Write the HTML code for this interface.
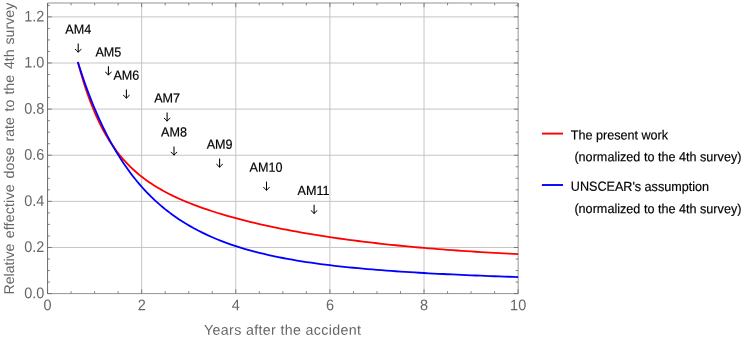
<!DOCTYPE html>
<html><head><meta charset="utf-8"><title>plot</title>
<style>html,body{margin:0;padding:0;background:#fff}svg{display:block;will-change:transform}text{font-family:"Liberation Sans",sans-serif;text-rendering:geometricPrecision}</style></head>
<body>
<svg width="747" height="341" viewBox="0 0 747 341">
<rect width="747" height="341" fill="#fff"/>
<path d="M47.55,3.0 V293.6 M141.67,3.0 V293.6 M235.79,3.0 V293.6 M329.91,3.0 V293.6 M424.03,3.0 V293.6 M47.55,247.48 H518.15 M47.55,201.36 H518.15 M47.55,155.24 H518.15 M47.55,109.12 H518.15 M47.55,63.00 H518.15 M47.55,16.88 H518.15" stroke="#c5c5c5" stroke-width="1" fill="none"/>
<path d="M47.55,3.0 H518.15 V293.6" stroke="#666666" stroke-width="0.7" fill="none"/>
<path d="M47.55,293.6 v-4.2 M47.55,3.0 v4.2 M71.08,293.6 v-2.4 M71.08,3.0 v2.4 M94.61,293.6 v-2.4 M94.61,3.0 v2.4 M118.14,293.6 v-2.4 M118.14,3.0 v2.4 M141.67,293.6 v-4.2 M141.67,3.0 v4.2 M165.20,293.6 v-2.4 M165.20,3.0 v2.4 M188.73,293.6 v-2.4 M188.73,3.0 v2.4 M212.26,293.6 v-2.4 M212.26,3.0 v2.4 M235.79,293.6 v-4.2 M235.79,3.0 v4.2 M259.32,293.6 v-2.4 M259.32,3.0 v2.4 M282.85,293.6 v-2.4 M282.85,3.0 v2.4 M306.38,293.6 v-2.4 M306.38,3.0 v2.4 M329.91,293.6 v-4.2 M329.91,3.0 v4.2 M353.44,293.6 v-2.4 M353.44,3.0 v2.4 M376.97,293.6 v-2.4 M376.97,3.0 v2.4 M400.50,293.6 v-2.4 M400.50,3.0 v2.4 M424.03,293.6 v-4.2 M424.03,3.0 v4.2 M447.56,293.6 v-2.4 M447.56,3.0 v2.4 M471.09,293.6 v-2.4 M471.09,3.0 v2.4 M494.62,293.6 v-2.4 M494.62,3.0 v2.4 M518.15,293.6 v-4.2 M518.15,3.0 v4.2 M47.55,293.60 h4.2 M518.15,293.60 h-4.2 M47.55,282.07 h2.4 M518.15,282.07 h-2.4 M47.55,270.54 h2.4 M518.15,270.54 h-2.4 M47.55,259.01 h2.4 M518.15,259.01 h-2.4 M47.55,247.48 h4.2 M518.15,247.48 h-4.2 M47.55,235.95 h2.4 M518.15,235.95 h-2.4 M47.55,224.42 h2.4 M518.15,224.42 h-2.4 M47.55,212.89 h2.4 M518.15,212.89 h-2.4 M47.55,201.36 h4.2 M518.15,201.36 h-4.2 M47.55,189.83 h2.4 M518.15,189.83 h-2.4 M47.55,178.30 h2.4 M518.15,178.30 h-2.4 M47.55,166.77 h2.4 M518.15,166.77 h-2.4 M47.55,155.24 h4.2 M518.15,155.24 h-4.2 M47.55,143.71 h2.4 M518.15,143.71 h-2.4 M47.55,132.18 h2.4 M518.15,132.18 h-2.4 M47.55,120.65 h2.4 M518.15,120.65 h-2.4 M47.55,109.12 h4.2 M518.15,109.12 h-4.2 M47.55,97.59 h2.4 M518.15,97.59 h-2.4 M47.55,86.06 h2.4 M518.15,86.06 h-2.4 M47.55,74.53 h2.4 M518.15,74.53 h-2.4 M47.55,63.00 h4.2 M518.15,63.00 h-4.2 M47.55,51.47 h2.4 M518.15,51.47 h-2.4 M47.55,39.94 h2.4 M518.15,39.94 h-2.4 M47.55,28.41 h2.4 M518.15,28.41 h-2.4 M47.55,16.88 h4.2 M518.15,16.88 h-4.2 M47.55,5.35 h2.4 M518.15,5.35 h-2.4" stroke="#666666" stroke-width="0.8" fill="none"/>
<path d="M47.55,293.6 H518.15" stroke="#666666" stroke-width="0.7" fill="none"/>
<path d="M47.55,3.0 V293.6" stroke="#666666" stroke-width="0.9" fill="none"/>
<path d="M77.86,61.93 L79.27,67.18 L80.68,72.21 L82.09,77.04 L83.50,81.67 L84.92,86.11 L86.33,90.37 L87.74,94.46 L89.15,98.39 L90.56,102.16 L91.97,105.79 L93.39,109.27 L94.80,112.62 L96.21,115.84 L97.62,118.94 L99.03,121.92 L100.45,124.79 L101.86,127.55 L103.27,130.22 L104.68,132.78 L106.09,135.26 L107.50,137.64 L108.92,139.94 L110.33,142.16 L111.74,144.31 L113.15,146.38 L114.56,148.38 L115.98,150.31 L117.39,152.18 L118.80,153.99 L120.21,155.74 L121.62,157.43 L123.03,159.07 L124.45,160.66 L125.86,162.20 L127.27,163.70 L128.68,165.15 L130.09,166.55 L131.51,167.92 L132.92,169.25 L134.33,170.53 L135.74,171.79 L137.15,173.01 L138.56,174.19 L139.98,175.35 L141.39,176.47 L142.80,177.57 L144.21,178.64 L145.62,179.68 L147.03,180.69 L148.45,181.69 L149.86,182.65 L151.27,183.60 L152.68,184.52 L154.09,185.42 L155.51,186.31 L156.92,187.17 L158.33,188.01 L159.74,188.84 L161.15,189.65 L162.56,190.44 L163.98,191.22 L165.39,191.98 L166.80,192.73 L168.21,193.46 L169.62,194.18 L171.04,194.89 L172.45,195.58 L173.86,196.26 L175.27,196.93 L176.68,197.59 L178.09,198.23 L179.51,198.87 L180.92,199.49 L182.33,200.11 L183.74,200.71 L185.15,201.31 L186.57,201.89 L187.98,202.47 L188.73,202.78 L193.44,204.63 L198.14,206.39 L202.85,208.08 L207.55,209.70 L212.26,211.25 L216.97,212.74 L221.67,214.18 L226.38,215.56 L231.08,216.89 L235.79,218.18 L240.50,219.43 L245.20,220.64 L249.91,221.80 L254.61,222.94 L259.32,224.03 L264.03,225.10 L268.73,226.13 L273.44,227.13 L278.14,228.10 L282.85,229.05 L287.56,229.96 L292.26,230.85 L296.97,231.72 L301.67,232.56 L306.38,233.38 L311.09,234.17 L315.79,234.95 L320.50,235.70 L325.20,236.43 L329.91,237.14 L334.62,237.83 L339.32,238.50 L344.03,239.16 L348.73,239.79 L353.44,240.41 L358.15,241.01 L362.85,241.60 L367.56,242.17 L372.26,242.72 L376.97,243.26 L381.68,243.79 L386.38,244.30 L391.09,244.79 L395.79,245.27 L400.50,245.74 L405.21,246.20 L409.91,246.65 L414.62,247.08 L419.32,247.50 L424.03,247.91 L428.74,248.31 L433.44,248.70 L438.15,249.07 L442.85,249.44 L447.56,249.80 L452.27,250.14 L456.97,250.48 L461.68,250.81 L466.38,251.13 L471.09,251.44 L475.80,251.75 L480.50,252.04 L485.21,252.33 L489.91,252.61 L494.62,252.88 L499.33,253.14 L504.03,253.40 L508.74,253.65 L513.44,253.89 L518.15,254.13" stroke="#ff0000" stroke-width="1.8" fill="none" stroke-linejoin="round"/>
<path d="M77.86,62.10 L79.27,66.55 L80.68,70.89 L82.09,75.13 L83.50,79.26 L84.92,83.29 L86.33,87.21 L87.74,91.05 L89.15,94.79 L90.56,98.44 L91.97,102.00 L93.39,105.48 L94.80,108.88 L96.21,112.19 L97.62,115.43 L99.03,118.59 L100.45,121.67 L101.86,124.69 L103.27,127.63 L104.68,130.51 L106.09,133.31 L107.50,136.06 L108.92,138.74 L110.33,141.36 L111.74,143.92 L113.15,146.43 L114.56,148.87 L115.98,151.26 L117.39,153.60 L118.80,155.89 L120.21,158.13 L121.62,160.31 L123.03,162.45 L124.45,164.54 L125.86,166.59 L127.27,168.59 L128.68,170.55 L130.09,172.47 L131.51,174.34 L132.92,176.18 L134.33,177.98 L135.74,179.73 L137.15,181.46 L138.56,183.14 L139.98,184.79 L141.39,186.41 L142.80,187.99 L144.21,189.54 L145.62,191.06 L147.03,192.54 L148.45,194.00 L149.86,195.42 L151.27,196.82 L152.68,198.19 L154.09,199.53 L155.51,200.85 L156.92,202.13 L158.33,203.40 L159.74,204.63 L161.15,205.85 L162.56,207.04 L163.98,208.20 L165.39,209.35 L166.80,210.47 L168.21,211.57 L169.62,212.65 L171.04,213.70 L172.45,214.74 L173.86,215.76 L175.27,216.75 L176.68,217.73 L178.09,218.69 L179.51,219.64 L180.92,220.56 L182.33,221.47 L183.74,222.36 L185.15,223.23 L186.57,224.09 L187.98,224.93 L188.73,225.37 L193.44,228.04 L198.14,230.56 L202.85,232.92 L207.55,235.15 L212.26,237.25 L216.97,239.23 L221.67,241.10 L226.38,242.87 L231.08,244.54 L235.79,246.11 L240.50,247.61 L245.20,249.02 L249.91,250.36 L254.61,251.63 L259.32,252.83 L264.03,253.98 L268.73,255.06 L273.44,256.09 L278.14,257.07 L282.85,258.00 L287.56,258.89 L292.26,259.73 L296.97,260.54 L301.67,261.30 L306.38,262.03 L311.09,262.73 L315.79,263.39 L320.50,264.03 L325.20,264.64 L329.91,265.22 L334.62,265.77 L339.32,266.31 L344.03,266.82 L348.73,267.30 L353.44,267.77 L358.15,268.22 L362.85,268.65 L367.56,269.07 L372.26,269.47 L376.97,269.85 L381.68,270.22 L386.38,270.58 L391.09,270.92 L395.79,271.25 L400.50,271.57 L405.21,271.88 L409.91,272.18 L414.62,272.47 L419.32,272.75 L424.03,273.02 L428.74,273.28 L433.44,273.53 L438.15,273.78 L442.85,274.02 L447.56,274.25 L452.27,274.47 L456.97,274.69 L461.68,274.91 L466.38,275.11 L471.09,275.32 L475.80,275.51 L480.50,275.70 L485.21,275.89 L489.91,276.07 L494.62,276.25 L499.33,276.43 L504.03,276.60 L508.74,276.77 L513.44,276.93 L518.15,277.09" stroke="#0000ff" stroke-width="1.8" fill="none" stroke-linejoin="round"/>
<text transform="translate(44.3,298.20) rotate(0.04) scale(0.94,1)" font-size="15.4" fill="#666666" text-anchor="end">0.0</text>
<text transform="translate(44.3,252.08) rotate(0.04) scale(0.94,1)" font-size="15.4" fill="#666666" text-anchor="end">0.2</text>
<text transform="translate(44.3,205.96) rotate(0.04) scale(0.94,1)" font-size="15.4" fill="#666666" text-anchor="end">0.4</text>
<text transform="translate(44.3,159.84) rotate(0.04) scale(0.94,1)" font-size="15.4" fill="#666666" text-anchor="end">0.6</text>
<text transform="translate(44.3,113.72) rotate(0.04) scale(0.94,1)" font-size="15.4" fill="#666666" text-anchor="end">0.8</text>
<text transform="translate(44.3,67.60) rotate(0.04) scale(0.94,1)" font-size="15.4" fill="#666666" text-anchor="end">1.0</text>
<text transform="translate(44.3,21.48) rotate(0.04) scale(0.94,1)" font-size="15.4" fill="#666666" text-anchor="end">1.2</text>
<text transform="translate(47.55,310.3) rotate(0.04) scale(0.94,1)" font-size="15.4" fill="#666666" text-anchor="middle">0</text>
<text transform="translate(141.67,310.3) rotate(0.04) scale(0.94,1)" font-size="15.4" fill="#666666" text-anchor="middle">2</text>
<text transform="translate(235.79,310.3) rotate(0.04) scale(0.94,1)" font-size="15.4" fill="#666666" text-anchor="middle">4</text>
<text transform="translate(329.91,310.3) rotate(0.04) scale(0.94,1)" font-size="15.4" fill="#666666" text-anchor="middle">6</text>
<text transform="translate(424.03,310.3) rotate(0.04) scale(0.94,1)" font-size="15.4" fill="#666666" text-anchor="middle">8</text>
<text transform="translate(518.15,310.3) rotate(0.04) scale(0.94,1)" font-size="15.4" fill="#666666" text-anchor="middle">10</text>
<text transform="translate(204,334.7) rotate(0.04)" font-size="14.2" fill="#666666" textLength="157" lengthAdjust="spacing">Years after the accident</text>
<text transform="translate(13.5,294.50) rotate(-90)" font-size="14.1" fill="#666666" letter-spacing="0.000">Relative</text>
<text transform="translate(13.5,238.30) rotate(-90)" font-size="14.1" fill="#666666" letter-spacing="0.200">effective</text>
<text transform="translate(13.5,178.60) rotate(-90)" font-size="14.1" fill="#666666" letter-spacing="0.200">dose</text>
<text transform="translate(13.5,141.50) rotate(-90)" font-size="14.1" fill="#666666" letter-spacing="0.000">rate</text>
<text transform="translate(13.5,111.50) rotate(-90)" font-size="14.1" fill="#666666" letter-spacing="0.000">to</text>
<text transform="translate(13.5,94.60) rotate(-90)" font-size="14.1" fill="#666666" letter-spacing="0.000">the</text>
<text transform="translate(13.5,69.00) rotate(-90)" font-size="14.1" fill="#666666" letter-spacing="0.000">4th</text>
<text transform="translate(13.5,44.50) rotate(-90)" font-size="14.1" fill="#666666" letter-spacing="0.050">survey</text>
<text transform="translate(78.2,33.7) rotate(0.04) scale(0.955,1)" font-size="13.2" fill="#000" stroke="#000" stroke-width="0.18" text-anchor="middle">AM4</text>
<path d="M78.20,43.50 V52.10" stroke="#000" stroke-width="1.05" fill="none"/>
<path d="M75.00,49.20 Q76.90,50.20 78.20,52.40 Q79.50,50.20 81.40,49.20" stroke="#000" stroke-width="1" fill="none" stroke-linejoin="round"/>
<text transform="translate(108.4,56.5) rotate(0.04) scale(0.955,1)" font-size="13.2" fill="#000" stroke="#000" stroke-width="0.18" text-anchor="middle">AM5</text>
<path d="M108.40,66.30 V74.90" stroke="#000" stroke-width="1.05" fill="none"/>
<path d="M105.20,72.00 Q107.10,73.00 108.40,75.20 Q109.70,73.00 111.60,72.00" stroke="#000" stroke-width="1" fill="none" stroke-linejoin="round"/>
<text transform="translate(126.4,79.7) rotate(0.04) scale(0.955,1)" font-size="13.2" fill="#000" stroke="#000" stroke-width="0.18" text-anchor="middle">AM6</text>
<path d="M126.40,89.50 V98.10" stroke="#000" stroke-width="1.05" fill="none"/>
<path d="M123.20,95.20 Q125.10,96.20 126.40,98.40 Q127.70,96.20 129.60,95.20" stroke="#000" stroke-width="1" fill="none" stroke-linejoin="round"/>
<text transform="translate(167.1,102.6) rotate(0.04) scale(0.955,1)" font-size="13.2" fill="#000" stroke="#000" stroke-width="0.18" text-anchor="middle">AM7</text>
<path d="M167.10,112.40 V121.00" stroke="#000" stroke-width="1.05" fill="none"/>
<path d="M163.90,118.10 Q165.80,119.10 167.10,121.30 Q168.40,119.10 170.30,118.10" stroke="#000" stroke-width="1" fill="none" stroke-linejoin="round"/>
<text transform="translate(174.0,136.6) rotate(0.04) scale(0.955,1)" font-size="13.2" fill="#000" stroke="#000" stroke-width="0.18" text-anchor="middle">AM8</text>
<path d="M174.00,146.40 V155.00" stroke="#000" stroke-width="1.05" fill="none"/>
<path d="M170.80,152.10 Q172.70,153.10 174.00,155.30 Q175.30,153.10 177.20,152.10" stroke="#000" stroke-width="1" fill="none" stroke-linejoin="round"/>
<text transform="translate(219.6,148.7) rotate(0.04) scale(0.955,1)" font-size="13.2" fill="#000" stroke="#000" stroke-width="0.18" text-anchor="middle">AM9</text>
<path d="M219.60,158.50 V167.10" stroke="#000" stroke-width="1.05" fill="none"/>
<path d="M216.40,164.20 Q218.30,165.20 219.60,167.40 Q220.90,165.20 222.80,164.20" stroke="#000" stroke-width="1" fill="none" stroke-linejoin="round"/>
<text transform="translate(266.0,171.8) rotate(0.04) scale(0.955,1)" font-size="13.2" fill="#000" stroke="#000" stroke-width="0.18" text-anchor="middle">AM10</text>
<path d="M266.50,181.60 V190.20" stroke="#000" stroke-width="1.05" fill="none"/>
<path d="M263.30,187.30 Q265.20,188.30 266.50,190.50 Q267.80,188.30 269.70,187.30" stroke="#000" stroke-width="1" fill="none" stroke-linejoin="round"/>
<text transform="translate(313.6,195.0) rotate(0.04) scale(0.955,1)" font-size="13.2" fill="#000" stroke="#000" stroke-width="0.18" text-anchor="middle">AM11</text>
<path d="M314.10,204.80 V213.40" stroke="#000" stroke-width="1.05" fill="none"/>
<path d="M310.90,210.50 Q312.80,211.50 314.10,213.70 Q315.40,211.50 317.30,210.50" stroke="#000" stroke-width="1" fill="none" stroke-linejoin="round"/>
<path d="M541.9,133.6 H563" stroke="#ff0000" stroke-width="1.9"/>
<path d="M541.9,185 H563" stroke="#0000ff" stroke-width="1.9"/>
<text transform="translate(570.8,139.4) rotate(0.04) scale(0.955,1)" font-size="13.2" fill="#000" stroke="#000" stroke-width="0.18">The present work</text>
<text transform="translate(574.4,161.2) rotate(0.04) scale(0.955,1)" font-size="13.2" fill="#000" stroke="#000" stroke-width="0.18" textLength="174.9" lengthAdjust="spacing">(normalized to the 4th survey)</text>
<text transform="translate(570.8,190.85) rotate(0.04) scale(0.955,1)" font-size="13.2" fill="#000" stroke="#000" stroke-width="0.18">UNSCEAR's assumption</text>
<text transform="translate(574.4,213.1) rotate(0.04) scale(0.955,1)" font-size="13.2" fill="#000" stroke="#000" stroke-width="0.18" textLength="174.9" lengthAdjust="spacing">(normalized to the 4th survey)</text>
</svg></body></html>
